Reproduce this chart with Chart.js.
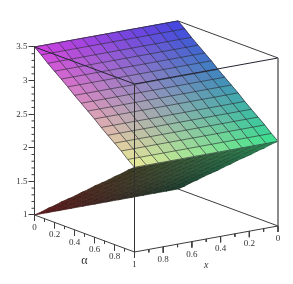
<!DOCTYPE html>
<html>
<head>
<meta charset="utf-8">
<title>Surface</title>
<script src="https://cdn.jsdelivr.net/npm/chart.js@4/dist/chart.umd.min.js"></script>
<style>
  html, body { margin: 0; padding: 0; background: #fff; }
  canvas { display: block; filter: blur(0.35px); }
</style>
</head>
<body>
<canvas id="surface-chart" width="293" height="284"></canvas>
<script>
/* values */
const alphaGrid = [0, 0.067, 0.133, 0.2, 0.267, 0.333, 0.4, 0.467, 0.533, 0.6, 0.667, 0.733, 0.8, 0.867, 0.933, 1];
const xGrid = [0, 0.083, 0.167, 0.25, 0.333, 0.417, 0.5, 0.583, 0.667, 0.75, 0.833, 0.917, 1];
const upperZ = [3.5, 3.42, 3.33, 3.25, 3.17, 3.09, 3.0, 2.92, 2.84, 2.76, 2.67, 2.59, 2.51, 2.43, 2.34, 2.26];
const lowerZ = [1, 1.08, 1.17, 1.25, 1.34, 1.42, 1.5, 1.59, 1.67, 1.76, 1.84, 1.92, 2.01, 2.09, 2.18, 2.26];

const zTicks = [1, 1.5, 2, 2.5, 3, 3.5];
const zMinorTicks = [1.1, 1.2, 1.3, 1.4, 1.6, 1.7, 1.8, 1.9, 2.1, 2.2, 2.3, 2.4, 2.6, 2.7, 2.8, 2.9, 3.1, 3.2, 3.3, 3.4];
const alphaTicks = [0, 0.2, 0.4, 0.6, 0.8, 1];
const xTicks = [0, 0.2, 0.4, 0.6, 0.8, 1];
const minorTicks = [0.1, 0.3, 0.5, 0.7, 0.9];

/* corner colours: [alpha, x] */
const upperColors = { a0x1: [208, 60, 226], a0x0: [66, 66, 226], a1x0: [58, 226, 142], a1x1: [232, 236, 150] };
const lowerColors = { a0x1: [104, 22, 28], a0x0: [24, 60, 44], a1x0: [44, 150, 95], a1x1: [60, 62, 36] };

/* box view: how one unit of alpha, x and z lands on the chart plane */
const ALPHA_H = 100, X_H = 143.5;
const ALPHA_V = 0.5506, X_V = 0.387;
const PX_Z = 67.2;

function project(alpha, x, z) {
    return { x: ALPHA_H * alpha + X_H * (1 - x), y: z - ALPHA_V * alpha + X_V * (1 - x) };
}

function mix(c, alpha, x) {
    const out = [0, 1, 2].map(function(i) {
        const near = c.a0x0[i] + (c.a0x1[i] - c.a0x0[i]) * x;
        const far = c.a1x0[i] + (c.a1x1[i] - c.a1x0[i]) * x;
        return Math.round(near + (far - near) * alpha);
    });
    return 'rgb(' + out.join(',') + ')';
}

const paint = [];

function addLine(points, color, width) {
    paint.push({ data: points, showLine: true, borderColor: color, borderWidth: width, pointRadius: 0, fill: false, clip: false });
}

function addSheet(zValues, colors, meshColor, meshWidth) {
    for (let a = 0; a < alphaGrid.length - 1; a++) {
        for (let k = 0; k < xGrid.length - 1; k++) {
            const poly = [
                project(alphaGrid[a], xGrid[k], zValues[a]),
                project(alphaGrid[a + 1], xGrid[k], zValues[a + 1]),
                project(alphaGrid[a + 1], xGrid[k + 1], zValues[a + 1]),
                project(alphaGrid[a], xGrid[k + 1], zValues[a]),
                project(alphaGrid[a], xGrid[k], zValues[a])
            ];
            const c = mix(colors, (alphaGrid[a] + alphaGrid[a + 1]) / 2, (xGrid[k] + xGrid[k + 1]) / 2);
            paint.push({ data: poly, showLine: true, borderColor: c, borderWidth: 0.6, backgroundColor: c, pointRadius: 0, fill: 'shape', clip: false });
        }
    }
    alphaGrid.forEach(function(al, a) {
        addLine(xGrid.map(function(x) { return project(al, x, zValues[a]); }), meshColor, meshWidth);
    });
    xGrid.forEach(function(x) {
        addLine(alphaGrid.map(function(al, a) { return project(al, x, zValues[a]); }), meshColor, meshWidth);
    });
}

const EDGE = 'rgb(60,60,62)';

/* back of the box, hidden by the sheets where they cross */
addLine([project(0, 1, 3.5), project(0, 0, 3.5), project(1, 0, 3.5)], EDGE, 1);
addLine([project(0, 0, 1), project(1, 0, 1)], EDGE, 1);

addSheet(lowerZ, lowerColors, 'rgba(20,20,15,0.35)', 0.6);
addSheet(upperZ, upperColors, 'rgba(35,35,45,0.7)', 0.9);

/* front of the box */
addLine([project(0, 1, 3.5), project(1, 1, 3.5), project(1, 0, 3.5)], 'rgb(35,35,50)', 1);
addLine([project(1, 1, 3.5), project(1, 1, 1)], 'rgba(50,50,50,0.8)', 1);
addLine([project(1, 0, 3.5), project(1, 0, 1)], 'rgb(125,125,125)', 1);
addLine([project(0, 1, 1), project(1, 1, 1), project(1, 0, 1)], EDGE, 1);
addLine([project(0, 1, 1), project(0, 1, 3.5)], EDGE, 1);

/* ticks on the slanted axes point down, the z minors point left */
const MAJOR = 6 / PX_Z, MINOR = 3 / PX_Z;
function addDownTick(p, len) {
    addLine([p, { x: p.x, y: p.y - len }], EDGE, 1);
}
alphaTicks.forEach(function(a) { addDownTick(project(a, 1, 1), MAJOR); });
xTicks.forEach(function(x) { addDownTick(project(1, x, 1), MAJOR); });
minorTicks.forEach(function(t) {
    addDownTick(project(t, 1, 1), MINOR);
    addDownTick(project(1, t, 1), MINOR);
});
zMinorTicks.forEach(function(z) {
    addLine([{ x: 0, y: z }, { x: -3, y: z }], EDGE, 1);
});

const axisText = {
    id: 'axisText',
    afterDatasetsDraw: function(chart) {
        const c = chart.ctx, sx = chart.scales.x, sy = chart.scales.y;
        function put(p, text, dy, font) {
            c.font = font;
            c.fillText(text, sx.getPixelForValue(p.x), sy.getPixelForValue(p.y) + dy);
        }
        c.save();
        c.fillStyle = '#333';
        c.textAlign = 'center';
        c.textBaseline = 'middle';
        alphaTicks.slice(0, -1).forEach(function(a) { put(project(a, 1, 1), String(a), 12.5, '9px "Liberation Serif"'); });
        xTicks.forEach(function(x) { put(project(1, x, 1), String(x), 12.7, '9px "Liberation Serif"'); });
        put(project(0.5, 1, 1), 'α', 27.5, '12px "Liberation Serif"');
        put(project(1, 0.5, 1), 'x', 26, 'italic 10px "Liberation Serif"');
        c.restore();
    }
};

document.addEventListener('DOMContentLoaded', function() {
    const ctx = document.getElementById('surface-chart').getContext('2d');
    new Chart(ctx, {
        type: 'scatter',
        data: { datasets: paint.slice().reverse() },
        options: {
            responsive: false,
            animation: false,
            events: [],
            layout: { padding: 0 },
            elements: { line: { tension: 0 } },
            plugins: { legend: { display: false }, tooltip: { enabled: false } },
            scales: {
                x: { type: 'linear', display: false, min: 0, max: 258.5 },
                y: {
                    type: 'linear',
                    min: -0.027,
                    max: 4.199,
                    afterFit: function(scale) {
                        scale.width = 34.5;
                        scale.paddingTop = 0;
                        scale.paddingBottom = 0;
                    },
                    afterBuildTicks: function(scale) { scale.ticks = zTicks.map(function(v) { return { value: v }; }); },
                    border: { display: false },
                    grid: { drawOnChartArea: false, drawTicks: true, tickLength: 6, tickColor: EDGE },
                    ticks: {
                        autoSkip: false,
                        padding: 1,
                        color: '#333',
                        font: { family: '"Liberation Serif"', size: 9 },
                        callback: function(v) { return String(v); }
                    }
                }
            }
        },
        plugins: [axisText]
    });
});
</script>
</body>
</html>
